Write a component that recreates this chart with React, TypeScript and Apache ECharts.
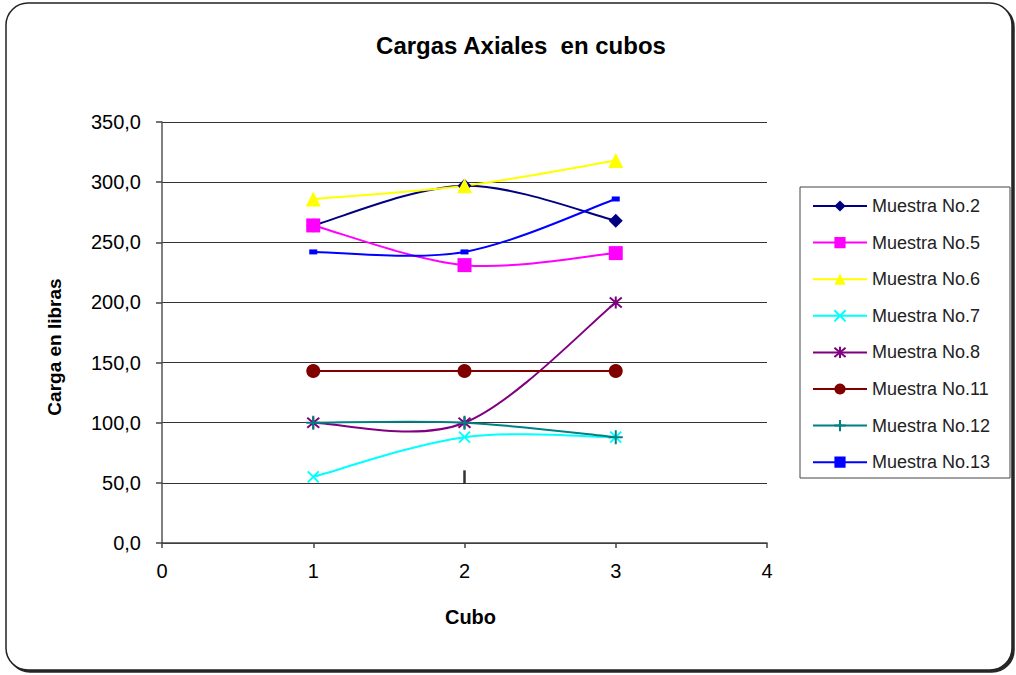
import React, { useEffect, useRef } from "react";
import * as echarts from "echarts";

const cubos = [1, 2, 3];
const muestra2 = [264, 297, 268];
const muestra5 = [264, 231, 241];
const muestra6 = [286, 297, 318];
const muestra7 = [55, 88, 88];
const muestra8 = [100, 100, 200];
const muestra11 = [143, 143, 143];
const muestra12 = [100, 100, 88];
const muestra13 = [242, 242, 286];
const strayMark = [[2, 55]];
const seriesNames = [
  "Muestra No.2",
  "Muestra No.5",
  "Muestra No.6",
  "Muestra No.7",
  "Muestra No.8",
  "Muestra No.11",
  "Muestra No.12",
  "Muestra No.13",
];

const FONT = "'Liberation Sans', Arial, sans-serif";

function pairs(vals: number[]) {
  return cubos.map((c, i) => [c, vals[i]]);
}

// Excel-like smoothed line (Catmull-Rom as cubic Bezier), drawn through the axes' scales
function curve(name: string, vals: number[], color: string) {
  return {
    name: "curva " + name,
    type: "custom",
    data: pairs(vals),
    encode: { x: 0, y: 1 },
    z: 2,
    silent: true,
    renderItem: (params: any, api: any) => {
      const i = params.dataIndexInside;
      const n = params.dataInsideLength;
      if (i >= n - 1) return null;
      const p = (k: number) => api.coord([api.value(0, k), api.value(1, k)]);
      const P0 = p(Math.max(i - 1, 0));
      const P1 = p(i);
      const P2 = p(i + 1);
      const P3 = p(Math.min(i + 2, n - 1));
      return {
        type: "bezierCurve",
        shape: {
          x1: P1[0],
          y1: P1[1],
          x2: P2[0],
          y2: P2[1],
          cpx1: P1[0] + (P2[0] - P0[0]) / 6,
          cpy1: P1[1] + (P2[1] - P0[1]) / 6,
          cpx2: P2[0] - (P3[0] - P1[0]) / 6,
          cpy2: P2[1] - (P3[1] - P1[1]) / 6,
        },
        style: { stroke: color, fill: "none", lineWidth: 2 },
      };
    },
  };
}

export default function App() {
  const ref = useRef<HTMLDivElement>(null);
  useEffect(() => {
    document.body.style.margin = "0";
    if (!ref.current) return;
    const chart = echarts.init(ref.current, null, { renderer: "svg" });

    const mk = (
      name: string,
      vals: number[],
      color: string,
      symbol: string,
      symbolSize: any,
      stroked = false
    ) => ({
      name,
      type: "line",
      data: pairs(vals),
      symbol,
      symbolSize,
      showSymbol: true,
      lineStyle: { color, width: 2, opacity: 0 },
      itemStyle: stroked
        ? { color: "transparent", borderColor: color, borderWidth: 2 }
        : { color, borderColor: color, borderWidth: 0 },
      z: 3,
    });

    const specs: [string, number[], string, string, any, boolean][] = [
      ["Muestra No.2", muestra2, "#000080", "diamond", 14, false],
      ["Muestra No.5", muestra5, "#FF00FF", "rect", 14, false],
      ["Muestra No.6", muestra6, "#FFFF00", "triangle", 15, false],
      ["Muestra No.7", muestra7, "#00FFFF", "path://M0,0L10,10M10,0L0,10", 11, true],
      ["Muestra No.8", muestra8, "#800080", "path://M0,0L10,10M10,0L0,10M5,-1L5,11", 12, true],
      ["Muestra No.11", muestra11, "#800000", "circle", 14, false],
      ["Muestra No.12", muestra12, "#008080", "path://M5,0L5,10M0,5L10,5", 14, true],
      ["Muestra No.13", muestra13, "#0000FF", "rect", [8, 5], false],
    ];

    const series: any[] = [];
    specs.forEach((s) => series.push(mk(s[0], s[1], s[2], s[3], s[4], s[5])));
    specs.forEach((s) => series.push(curve(s[0], s[1], s[2])));
    series.push({
      name: "marca",
      type: "scatter",
      data: strayMark,
      symbol: "rect",
      symbolSize: [2.5, 13],
      itemStyle: { color: "#000" },
      z: 3,
    });

    const option: any = {
      animation: false,
      backgroundColor: "transparent",
      textStyle: { fontFamily: FONT },
      graphic: [
        {
          type: "rect",
          z: -10,
          shape: { x: 6, y: 3, width: 1006, height: 667, r: 22 },
          style: {
            fill: "#fff",
            stroke: "#222",
            lineWidth: 1.5,
            shadowColor: "rgba(0,0,0,0.85)",
            shadowOffsetX: 2,
            shadowOffsetY: 2,
            shadowBlur: 1,
          },
        },
        {
          type: "rect",
          z: 1,
          shape: { x: 800, y: 187, width: 210, height: 291 },
          style: { fill: "none", stroke: "#444", lineWidth: 1 },
        },
        {
          type: "text",
          z: 5,
          x: 521,
          y: 45,
          style: {
            text: "Cargas Axiales  en cubos",
            fontFamily: FONT,
            fontSize: 24,
            fontWeight: "bold",
            fill: "#000",
            textAlign: "center",
            textVerticalAlign: "middle",
          },
        },
        {
          type: "text",
          z: 5,
          x: 54,
          y: 347,
          rotation: Math.PI / 2,
          style: {
            text: "Carga en libras",
            fontFamily: FONT,
            fontSize: 19,
            fontWeight: "bold",
            fill: "#000",
            textAlign: "center",
            textVerticalAlign: "middle",
          },
        },
      ],
      grid: { left: 162, right: 249, top: 122, bottom: 132 },
      legend: {
        data: seriesNames,
        orient: "vertical",
        left: 812,
        top: 197,
        itemWidth: 54,
        itemHeight: 14,
        itemGap: 18.6,
        padding: 0,
        lineStyle: { opacity: 1, width: 2 },
        textStyle: {
          fontFamily: FONT,
          fontSize: 18,
          lineHeight: 18,
          color: "#222",
        },
      },
      xAxis: {
        type: "value",
        min: 0,
        max: 4,
        interval: 1,
        name: "Cubo",
        nameLocation: "middle",
        nameGap: 64,
        nameTextStyle: {
          fontFamily: FONT,
          fontSize: 20,
          fontWeight: "bold",
          color: "#000",
          padding: [0, 0, 0, 12],
        },
        axisLine: { show: true, onZero: false, lineStyle: { color: "#444", width: 1.5 } },
        axisTick: { show: true, length: 5, lineStyle: { color: "#444", width: 1.5 } },
        axisLabel: { fontFamily: FONT, fontSize: 20, color: "#000", margin: 18 },
        splitLine: { show: false },
      },
      yAxis: {
        type: "value",
        min: 0,
        max: 350,
        interval: 50,
        axisLine: { show: true, lineStyle: { color: "#555", width: 1.5 } },
        axisTick: { show: true, length: 6, lineStyle: { color: "#444", width: 1.5 } },
        axisLabel: {
          fontFamily: FONT,
          fontSize: 20,
          color: "#000",
          margin: 21,
          formatter: (v: number) => v.toFixed(1).replace(".", ","),
        },
        splitLine: { show: true, lineStyle: { color: "#333", width: 1.2 } },
      },
      series,
    };
    chart.setOption(option);
    return () => chart.dispose();
  }, []);
  return <div ref={ref} style={{ width: 1016, height: 675 }} />;
}
